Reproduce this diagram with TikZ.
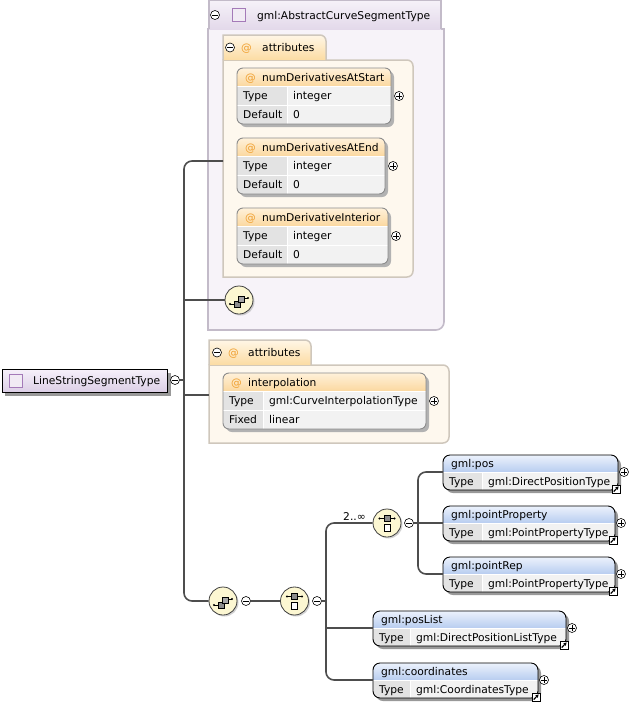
\documentclass[tikz,border=0pt]{standalone}
\usepackage{fontspec}
\setmainfont{DejaVu Sans}
\usetikzlibrary{shadows,calc,arrows.meta}
\definecolor{connc}{HTML}{4D4D4D}
\definecolor{contFill}{HTML}{F7F3F9}
\definecolor{contDraw}{HTML}{C3BBC9}
\definecolor{hdrTop}{HTML}{F6F2F9}
\definecolor{hdrBot}{HTML}{E3D9EA}
\definecolor{grpFill}{HTML}{FEF8EE}
\definecolor{grpDraw}{HTML}{CFC7BC}
\definecolor{tabTop}{HTML}{FFF6E6}
\definecolor{tabBot}{HTML}{FCDCA3}
\definecolor{attrTop}{HTML}{FFF1DA}
\definecolor{attrBot}{HTML}{FBD8A0}
\definecolor{labcell}{HTML}{E3E3E3}
\definecolor{valcell}{HTML}{F2F2F2}
\definecolor{elemTop}{HTML}{ECF2FC}
\definecolor{elemBot}{HTML}{B8CDF0}
\definecolor{compfill}{HTML}{FCF7D2}
\definecolor{atcol}{HTML}{F0A030}
\definecolor{sqpurple}{HTML}{A47AB8}
\definecolor{lsTop}{HTML}{F6F0FA}
\definecolor{lsBot}{HTML}{DCCFE6}
\tikzset{
  txt/.style={anchor=base west, inner sep=0, font=\fontsize{10.7}{12}\selectfont},
  cn/.style={draw=connc, line width=1.6},
  cmin/.style={circle, draw=black, fill=white, line width=0.6, inner sep=0, minimum size=9,
    path picture={\draw[line width=0.7] ([xshift=-2.6pt]path picture bounding box.center) -- ([xshift=2.6pt]path picture bounding box.center);}},
  cplus/.style={circle, draw=black, fill=white, line width=0.6, inner sep=0, minimum size=9,
    path picture={\draw[line width=0.7] ([xshift=-2.6pt]path picture bounding box.center) -- ([xshift=2.6pt]path picture bounding box.center);
      \draw[line width=0.7] ([yshift=-2.6pt]path picture bounding box.center) -- ([yshift=2.6pt]path picture bounding box.center);}},
  comp/.style={circle, draw=black!75, line width=0.8, fill=compfill, minimum size=28, inner sep=0,
    drop shadow={shadow xshift=1.5pt, shadow yshift=-1.5pt, fill=black!35}},
}
\newcommand\linkicon[2]{%
  \draw[black, fill=white, line width=0.8] ({#1-6},{#2-5}) rectangle ({#1+2},{#2+3});
  \draw[black, line width=1.2, -{Triangle[length=3pt,width=3.2pt]}] ({#1-4.3},{#2+1.5}) -- ({#1+0.6},{#2-3.6});
}
% #1 name, #2 left, #3 top, #4 right, #5 sep, #6 title, #7 type
\newcommand\ElemBox[7]{%
  \fill[black!40, rounded corners=7] ({#2+3},{#3+3}) rectangle ({#4+3},{#3+38});
  \begin{scope}
    \clip[rounded corners=7] (#2,#3) rectangle (#4,{#3+35});
    \shade[top color=elemTop, bottom color=elemBot] (#2,#3) rectangle (#4,{#3+17});
    \fill[labcell] (#2,{#3+17}) rectangle (#5,{#3+35});
    \fill[valcell] (#5,{#3+17}) rectangle (#4,{#3+35});
  \end{scope}
  \draw[white, line width=1] (#2,{#3+17}) -- (#4,{#3+17});
  \draw[white, line width=1] (#5,{#3+17}) -- (#5,{#3+35});
  \draw[black, line width=0.9, rounded corners=7] (#2,#3) rectangle (#4,{#3+35});
  \node[txt] (#1-t) at ({#2+8},{#3+12.5}) {#6};
  \node[txt] (#1-l) at ({#2+6},{#3+30.5}) {Type};
  \node[txt] (#1-v) at ({#5+6},{#3+30.5}) {#7};
  \coordinate (#1) at (#2,{#3+17});
  \linkicon{#4}{#3+35}
  \node[cplus] (#1-p) at ({#4+6},{#3+17}) {};
}
% #1 name, #2 left, #3 top, #4 right, #5 sep, #6 title, #7 val1, #8 lab2, #9 val2
\newcommand\AttrEntry[9]{%
  \fill[black!30, rounded corners=6] ({#2+3},{#3+3}) rectangle ({#4+3},{#3+59});
  \begin{scope}
    \clip[rounded corners=6] (#2,#3) rectangle (#4,{#3+56});
    \shade[top color=attrTop, bottom color=attrBot] (#2,#3) rectangle (#4,{#3+18});
    \fill[labcell] (#2,{#3+18}) rectangle (#5,{#3+56});
    \fill[valcell] (#5,{#3+18}) rectangle (#4,{#3+56});
  \end{scope}
  \draw[white, line width=1] (#2,{#3+18}) -- (#4,{#3+18});
  \draw[white, line width=1] (#2,{#3+37}) -- (#4,{#3+37});
  \draw[white, line width=1] (#5,{#3+18}) -- (#5,{#3+56});
  \draw[black!45, line width=0.9, rounded corners=6] (#2,#3) rectangle (#4,{#3+56});
  \node[txt, text=atcol] (#1-at) at ({#2+8},{#3+13}) {@};
  \node[txt] (#1-t) at ({#2+25},{#3+13}) {#6};
  \node[txt] (#1-l1) at ({#2+6},{#3+31.5}) {Type};
  \node[txt] (#1-v1) at ({#5+6},{#3+31.5}) {#7};
  \node[txt] (#1-l2) at ({#2+6},{#3+50.5}) {#8};
  \node[txt] (#1-v2) at ({#5+6},{#3+50.5}) {#9};
  \node[cplus] (#1-p) at ({#4+8},{#3+28}) {};
}
\newcommand\seqglyph[1]{%
  \draw[black, line width=0.6] ($(#1)+(-9,4)$) -- ($(#1)+(-5,4)$);
  \fill[black] ($(#1)+(-9,4)$) circle (1.1pt);
  \draw[black, fill=black!45, line width=0.6] ($(#1)+(-5,1)$) rectangle ($(#1)+(1,7)$);
  \draw[black, fill=black!35, line width=0.6] ($(#1)+(-1,-4)$) rectangle ($(#1)+(5,2)$);
  \draw[black, line width=0.6] ($(#1)+(5,-2)$) -- ($(#1)+(9,-2)$);
  \fill[black] ($(#1)+(9,-2)$) circle (1.1pt);
}
\newcommand\choiceglyph[1]{%
  \draw[black, line width=0.6] ($(#1)+(-7.5,-4.5)$) -- ($(#1)+(7.5,-4.5)$);
  \fill[black] ($(#1)+(-7.5,-4.5)$) circle (1.1pt);
  \fill[black] ($(#1)+(7.5,-4.5)$) circle (1.1pt);
  \draw[black, fill=black!45, line width=0.6] ($(#1)+(-3,-7.5)$) rectangle ($(#1)+(3,-1.5)$);
  \draw[black, fill=white, line width=0.7] ($(#1)+(-3,1.5)$) rectangle ($(#1)+(3,8)$);
}
\begin{document}
\begin{tikzpicture}[x=1pt, y=-1pt]
\useasboundingbox (0,0) rectangle (634,705);

% ---------- gml:AbstractCurveSegmentType container ----------
\draw[fill=contFill, draw=contDraw, line width=1.6] (208,29) -- (444,29) -- (444,322) arc[start angle=0, end angle=-90, radius=8pt] -- (208,330) -- cycle;
\shade[top color=hdrTop, bottom color=hdrBot] (209,0) rectangle (441,29);
\draw[draw=contDraw, line width=1.6] (209,29) -- (209,0) -- (441,0) -- (441,29);
\node[cmin] (absMinus) at (215,15) {};
\draw[sqpurple, fill=white!85!sqpurple, line width=0.8] (232,8) rectangle (245,21);
\node[txt] (absT) at (257,19) {gml:AbstractCurveSegmentType};

% attributes group 1
\draw[fill=grpFill, draw=grpDraw, line width=1.5] (223,60) -- (407,60) arc[start angle=90, end angle=0, radius=6pt] -- (413,271) arc[start angle=0, end angle=-90, radius=6pt] -- (223,277) -- cycle;
\shade[top color=tabTop, bottom color=tabBot] (223,60) -- (223,35) -- (320,35) arc[start angle=90, end angle=0, radius=6pt] -- (326,60) -- cycle;
\draw[draw=grpDraw, line width=1.5] (223,60) -- (223,35) -- (320,35) arc[start angle=90, end angle=0, radius=6pt] -- (326,60);
\node[cmin] (g1Minus) at (230,47.5) {};
\node[txt, text=atcol] (g1At) at (241,51) {@};
\node[txt] (g1T) at (262,51) {attributes};

\AttrEntry{aStart}{237}{68}{391}{287}{numDerivativesAtStart}{integer}{Default}{0}
\AttrEntry{aEnd}{237}{138}{385}{287}{numDerivativesAtEnd}{integer}{Default}{0}
\AttrEntry{aInt}{237}{208}{388}{287}{numDerivativeInterior}{integer}{Default}{0}

\node[comp] (seqA) at (239,300) {};
\seqglyph{seqA}

% attributes group 2
\draw[fill=grpFill, draw=grpDraw, line width=1.5] (209,365) -- (443,365) arc[start angle=90, end angle=0, radius=6pt] -- (449,437) arc[start angle=0, end angle=-90, radius=6pt] -- (209,443) -- cycle;
\shade[top color=tabTop, bottom color=tabBot] (209,365) -- (209,340) -- (305,340) arc[start angle=90, end angle=0, radius=6pt] -- (311,365) -- cycle;
\draw[draw=grpDraw, line width=1.5] (209,365) -- (209,340) -- (305,340) arc[start angle=90, end angle=0, radius=6pt] -- (311,365);
\node[cmin] (g2Minus) at (217,352.5) {};
\node[txt, text=atcol] (g2At) at (228,356) {@};
\node[txt] (g2T) at (248,356) {attributes};
\AttrEntry{aInterp}{223}{373}{426}{263}{interpolation}{gml:CurveInterpolationType}{Fixed}{linear}

% ---------- LineStringSegmentType ----------
\fill[black!40] (5,373) rectangle (171,396);
\shade[top color=lsTop, bottom color=lsBot] (2,369) rectangle (167,392);
\draw[black, line width=0.9] (2,369) rectangle (167,392);
\draw[sqpurple, fill=white!85!sqpurple, line width=0.8] (9,374) rectangle (22,387);
\node[txt] (lsT) at (33,384) {LineStringSegmentType};
\node[cmin] (lsMinus) at (175,380) {};

% main tree
\coordinate (trTop) at (184,161);
\coordinate (trBot) at (184,601);
\coordinate (g1W) at (223,161);
\coordinate (g2W) at (209,395);
\node[comp] (seq1) at (223,601) {};
\seqglyph{seq1}
\draw[cn, rounded corners=8] (g1W) -- (trTop) -- (trBot) -- (seq1.west);
\draw[cn] (lsMinus.east) -- (lsMinus.east -| trTop);
\draw[cn] (seqA.west -| trTop) -- (seqA.west);
\draw[cn] (g2W -| trTop) -- (g2W);

% bottom part
\node[cmin] (m1) at (246,601) {};
\node[comp] (ch1) at (294.5,601) {};
\choiceglyph{ch1}
\node[cmin] (m2) at (317,601) {};
\node[comp] (ch2) at (387,523) {};
\choiceglyph{ch2}
\node[cmin] (m3) at (409,523) {};
\node[txt] (occ) at (343,520.5) {2..∞};
\draw[cn] (m1.east) -- (ch1.west);

\ElemBox{pos}{443}{455}{618}{482}{gml:pos}{gml:DirectPositionType}
\ElemBox{pProp}{443}{506}{615}{482}{gml:pointProperty}{gml:PointPropertyType}
\ElemBox{pRep}{443}{557}{615}{482}{gml:pointRep}{gml:PointPropertyType}
\ElemBox{posList}{373}{611}{566}{410}{gml:posList}{gml:DirectPositionListType}
\ElemBox{coords}{373}{663}{538}{410}{gml:coordinates}{gml:CoordinatesType}

\coordinate (j1) at (326,523);
\coordinate (j1b) at (326,680);
\draw[cn, rounded corners=8] (ch2.west) -- (j1) -- (j1b) -- (coords);
\draw[cn] (m2.east) -- (m2.east -| j1);
\draw[cn] (posList -| j1) -- (posList);
\coordinate (j2) at (418,472);
\coordinate (j2b) at (418,574);
\draw[cn, rounded corners=8] (pos) -- (j2) -- (j2b) -- (pRep);
\draw[cn] (m3.east) -- (pProp);
\end{tikzpicture}
\end{document}
